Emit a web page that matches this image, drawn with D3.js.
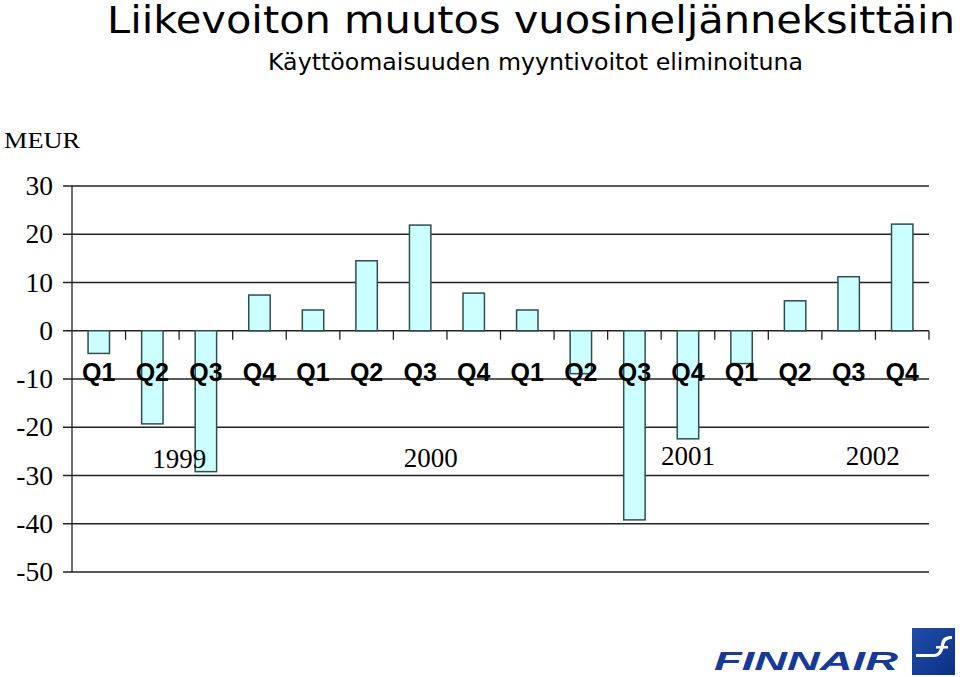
<!DOCTYPE html>
<html>
<head>
<meta charset="utf-8">
<script src="https://cdn.jsdelivr.net/npm/d3@7"></script>
<style>
  body { margin: 0; background: #fff; }
</style>
</head>
<body>
<svg id="svg"></svg>
<script>
// quarterly change in operating profit, MEUR
const quarters = ["Q1","Q2","Q3","Q4","Q1","Q2","Q3","Q4","Q1","Q2","Q3","Q4","Q1","Q2","Q3","Q4"];
const values = [-4.7, -19.3, -29.2, 7.4, 4.3, 14.5, 21.9, 7.8, 4.3, -8.9, -39.2, -22.4, -6.8, 6.2, 11.2, 22.1];
const years = ["1999", "2000", "2001", "2002"];
const yTicks = [30, 20, 10, 0, -10, -20, -30, -40, -50];

function sketch() {
    let svg = d3.select("#svg");
    let width = 960;
    let height = 677;
    svg.attr("width", width).attr("height", height);

    let marginLeft = 72;
    let plotRight = 929;
    let plotTop = 186;
    let plotBottom = 572;

    let x = d3.scaleBand()
        .domain(d3.range(quarters.length))
        .range([marginLeft, plotRight])
        .paddingInner(0.6)
        .paddingOuter(0.3);

    let y = d3.scaleLinear()
        .domain([-50, 30])
        .range([plotBottom, plotTop]);

    // titles
    svg.append("text")
        .attr("x", 107).attr("y", 33)
        .attr("font-family", "DejaVu Sans, Verdana, sans-serif")
        .attr("font-size", 37)
        .attr("textLength", 848)
        .attr("lengthAdjust", "spacingAndGlyphs")
        .text("Liikevoiton muutos vuosineljänneksittäin");

    svg.append("text")
        .attr("x", 268).attr("y", 70)
        .attr("font-family", "DejaVu Sans, Verdana, sans-serif")
        .attr("font-size", 23)
        .attr("textLength", 535)
        .attr("lengthAdjust", "spacingAndGlyphs")
        .text("Käyttöomaisuuden myyntivoitot eliminoituna");

    svg.append("text")
        .attr("x", 4).attr("y", 148)
        .attr("font-family", "Liberation Serif, Times New Roman, serif")
        .attr("font-size", 23)
        .attr("textLength", 76)
        .attr("lengthAdjust", "spacingAndGlyphs")
        .text("MEUR");

    // gridlines + y axis
    let g = svg.append("g");
    g.selectAll("line.grid")
        .data(yTicks)
        .enter().append("line")
        .attr("class", "grid")
        .attr("x1", marginLeft - 9)
        .attr("x2", plotRight)
        .attr("y1", d => y(d))
        .attr("y2", d => y(d))
        .attr("stroke", "#222")
        .attr("stroke-width", 1.3);

    g.append("line")
        .attr("x1", marginLeft).attr("x2", marginLeft)
        .attr("y1", y(30)).attr("y2", y(-50))
        .attr("stroke", "#222")
        .attr("stroke-width", 1.3);

    g.selectAll("text.ytick")
        .data(yTicks)
        .enter().append("text")
        .attr("class", "ytick")
        .attr("x", 53)
        .attr("y", d => y(d))
        .attr("dy", "0.33em")
        .attr("text-anchor", "end")
        .attr("font-family", "Liberation Serif, Times New Roman, serif")
        .attr("font-size", 27.5)
        .text(d => d);

    // x axis tick marks at category boundaries
    let step = x.step();
    g.selectAll("line.xtick")
        .data(d3.range(1, quarters.length + 1))
        .enter().append("line")
        .attr("class", "xtick")
        .attr("x1", i => marginLeft + i * step)
        .attr("x2", i => marginLeft + i * step)
        .attr("y1", y(0))
        .attr("y2", y(0) + 9)
        .attr("stroke", "#222")
        .attr("stroke-width", 1.3);

    // bars
    g.selectAll("rect.bar")
        .data(values)
        .enter().append("rect")
        .attr("class", "bar")
        .attr("x", (d, i) => x(i))
        .attr("width", x.bandwidth())
        .attr("y", d => y(Math.max(0, d)))
        .attr("height", d => Math.abs(y(d) - y(0)))
        .attr("fill", "#ccffff")
        .attr("stroke", "#2f4f4f")
        .attr("stroke-width", 1.5);

    // quarter labels
    g.selectAll("text.q")
        .data(quarters)
        .enter().append("text")
        .attr("class", "q")
        .attr("x", (d, i) => x(i) + x.bandwidth() / 2)
        .attr("y", 381)
        .attr("text-anchor", "middle")
        .attr("font-family", "Liberation Sans, Arial, sans-serif")
        .attr("font-weight", "bold")
        .attr("font-size", 25)
        .text(d => d);

    // year labels (position in category units)
    let yearPos = [2.0, 6.7, 11.5, 14.95];
    let yearBase = [468, 467, 465, 465];
    g.selectAll("text.year")
        .data(years)
        .enter().append("text")
        .attr("class", "year")
        .attr("x", (d, i) => marginLeft + yearPos[i] * step)
        .attr("y", (d, i) => yearBase[i])
        .attr("text-anchor", "middle")
        .attr("font-family", "Liberation Serif, Times New Roman, serif")
        .attr("font-size", 27)
        .text(d => d);

    // Finnair logo
    let logo = svg.append("g");
    let defs = svg.append("defs");
    let grad = defs.append("linearGradient")
        .attr("id", "lg").attr("x1", 0).attr("y1", 0).attr("x2", 1).attr("y2", 1);
    grad.append("stop").attr("offset", "0%").attr("stop-color", "#1f4ea8");
    grad.append("stop").attr("offset", "100%").attr("stop-color", "#0d2f86");

    logo.append("text")
        .attr("x", 714).attr("y", 670)
        .attr("font-family", "Liberation Sans, Arial, sans-serif")
        .attr("font-weight", "bold")
        .attr("font-style", "italic")
        .attr("font-size", 25)
        .attr("textLength", 184)
        .attr("lengthAdjust", "spacingAndGlyphs")
        .attr("fill", "#173a96")
        .text("FINNAIR");

    logo.append("rect")
        .attr("x", 912).attr("y", 628)
        .attr("width", 43).attr("height", 47)
        .attr("fill", "url(#lg)");
    logo.append("path")
        .attr("d", "M916,654 L934,654 C938,654 940,650 941,644 C942,638 945,636 952,636 L952,639 C947,639 945,641 944,646 C943,652 940,657 934,657 L916,657 Z")
        .attr("fill", "#fff");
    logo.append("rect")
        .attr("x", 936).attr("y", 646).attr("width", 12).attr("height", 2.5)
        .attr("fill", "#fff");
}

sketch();
</script>
</body>
</html>
